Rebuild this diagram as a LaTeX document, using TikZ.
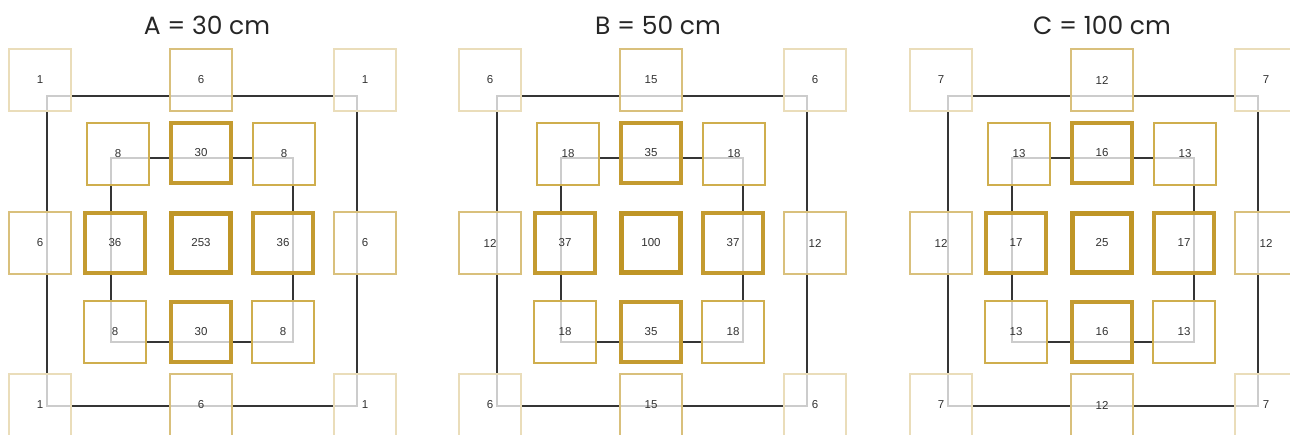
\documentclass[tikz,border=0pt]{standalone}
\usepackage{fontspec}
\setmainfont{Liberation Sans}
\newfontfamily\titlefont{Poppins}
\definecolor{wirec}{HTML}{353535}
\definecolor{farc}{HTML}{EADDBA}
\definecolor{sidec}{HTML}{D9C07C}
\definecolor{nearc}{HTML}{CFAE4E}
\definecolor{edgec}{HTML}{C49B30}
\definecolor{hubc}{HTML}{BF9526}
\begin{document}
\begin{tikzpicture}[x=1pt, y=-1pt, every node/.style={font=\fontsize{11.5}{13}\selectfont, text=black!80},
  box/.style={draw, fill=white, fill opacity=0.75, text opacity=1, minimum size=62pt, inner sep=0pt},
  farbox/.style={box, draw=farc, line width=1.2pt},
  sidebox/.style={box, draw=sidec, line width=1.4pt},
  nearbox/.style={box, draw=nearc, line width=2pt},
  edgebox/.style={box, draw=edgec, line width=3.6pt, minimum size=60pt},
  hubbox/.style={box, draw=hubc, line width=4.6pt, minimum size=59pt},
  wire/.style={draw=wirec, line width=2pt}]
\useasboundingbox (0,0) rectangle (1290,434);
\foreach \p/\dx/\tx/\ttl/\oc/\om/\os/\ic/\im/\is/\cc in {
  A/0/207/{A = 30 cm}/1/6/6/8/30/36/253,
  B/450/208/{B = 50 cm}/6/15/12/18/35/37/100,
  C/901/201/{C = 100 cm}/7/12/12/13/16/17/25}{
\begin{scope}[xshift=\dx pt]
\node[font=\titlefont\fontsize{25}{28}\selectfont, text=black!85] (\p-title) at (\tx,25) {\ttl};
% wiring runs under the boxes
\coordinate (\p-o1) at (47,96); \coordinate (\p-o2) at (357,406);
\coordinate (\p-i1) at (111,158); \coordinate (\p-i2) at (293,342);
\draw[wire] (\p-o1) rectangle (\p-o2);
\draw[wire] (\p-i1) rectangle (\p-i2);
% outer ring
\node[farbox] (\p-ootl) at (40,80) {\oc};
\node[sidebox] (\p-oot) at (201,80) {\om};
\node[farbox] (\p-ootr) at (365,80) {\oc};
\node[sidebox] (\p-ool) at (40,243) {\os};
\node[sidebox] (\p-oor) at (365,243) {\os};
\node[farbox] (\p-oobl) at (40,405) {\oc};
\node[sidebox] (\p-oob) at (201,405) {\om};
\node[farbox] (\p-oobr) at (365,405) {\oc};
% inner ring
\node[nearbox] (\p-itl) at (118,154) {\ic};
\node[edgebox] (\p-it) at (201,153) {\im};
\node[nearbox] (\p-itr) at (284,154) {\ic};
\node[edgebox] (\p-il) at (115,243) {\is};
\node[hubbox] (\p-hub) at (201,243) {\cc};
\node[edgebox] (\p-ir) at (283,243) {\is};
\node[nearbox] (\p-ibl) at (115,332) {\ic};
\node[edgebox] (\p-ib) at (201,332) {\im};
\node[nearbox] (\p-ibr) at (283,332) {\ic};
\end{scope}}
\end{tikzpicture}
\end{document}
